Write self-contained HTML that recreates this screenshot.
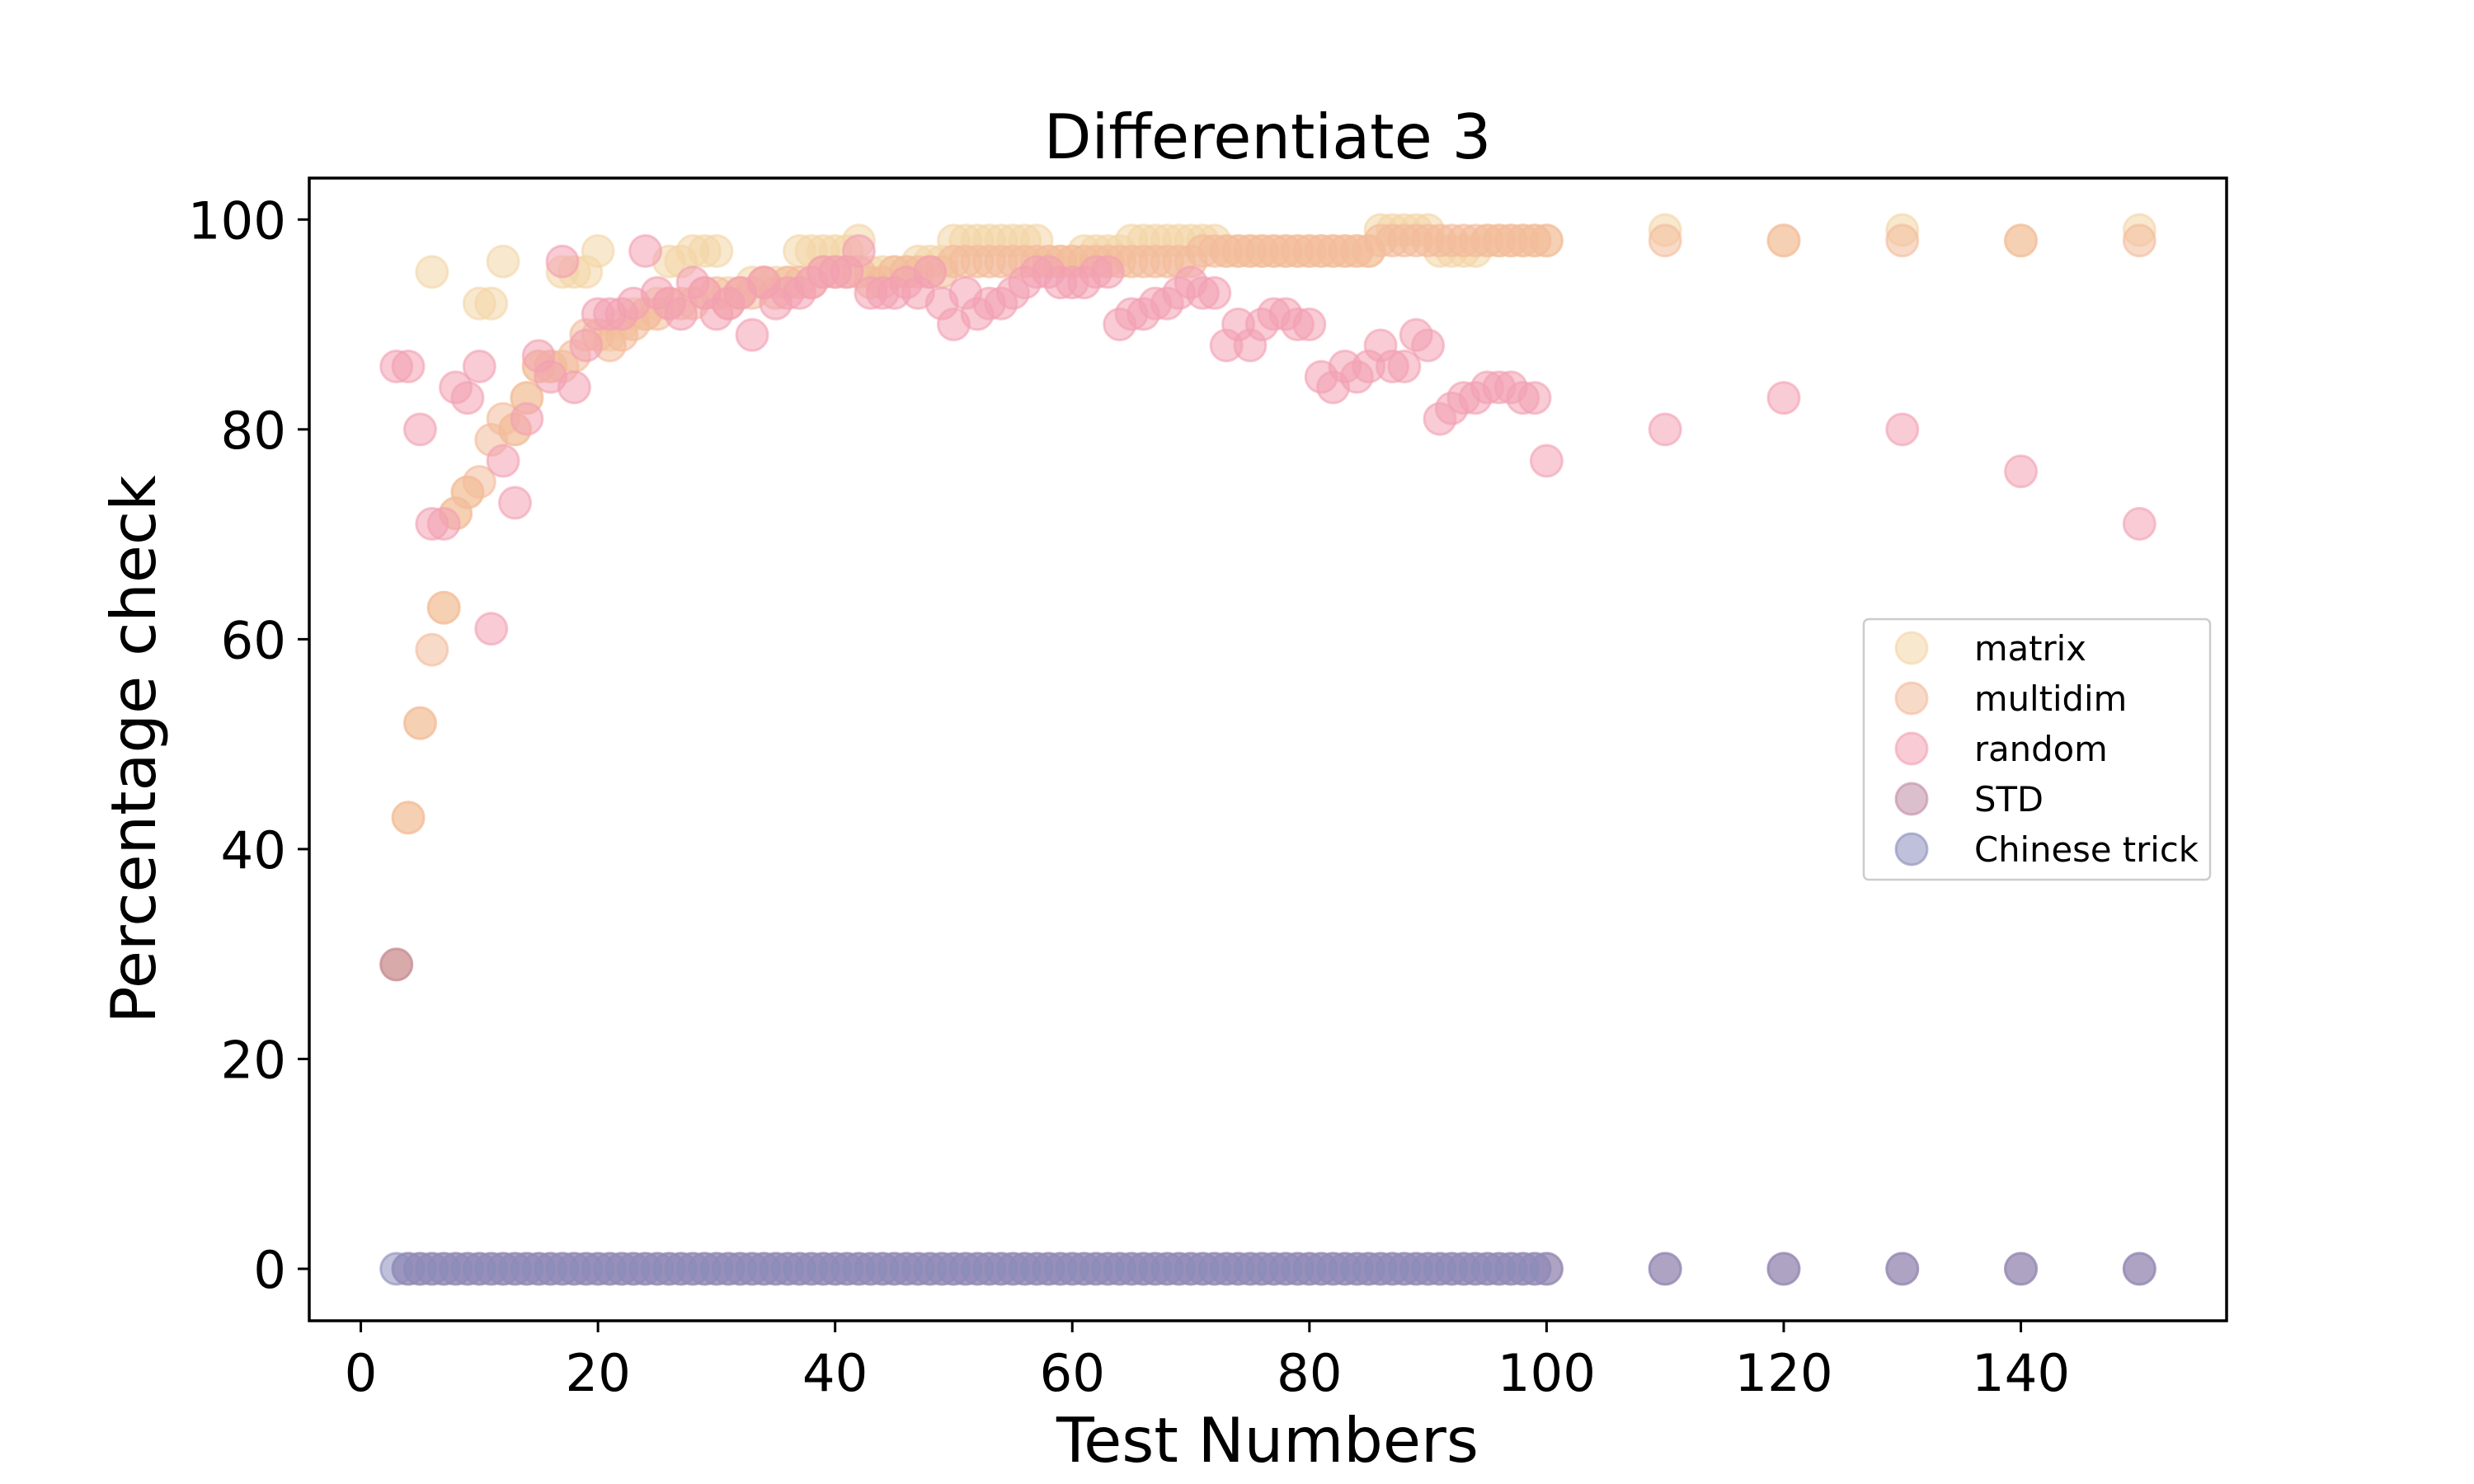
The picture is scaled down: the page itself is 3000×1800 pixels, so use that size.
<!DOCTYPE html>
<html><head><meta charset="utf-8"><style>html,body{margin:0;padding:0;background:#fff}svg{display:block}text{font-family:"DejaVu Sans","Liberation Sans",sans-serif}</style></head>
<body>
<svg id="chart" width="3000" height="1800" xmlns="http://www.w3.org/2000/svg">
<rect width="3000" height="1800" fill="#fff"/>
<text x="1537" y="192" font-size="75" text-anchor="middle">Differentiate 3</text>
<g id="marks"></g>
<rect x="375" y="216" width="2325" height="1386" fill="none" stroke="#000" stroke-width="3.5"/>
<g id="ticks"></g>
<text x="1537" y="1773" font-size="75" text-anchor="middle">Test Numbers</text>
<text x="0" y="0" font-size="75" text-anchor="middle" transform="translate(188,909) rotate(-90)">Percentage check</text>
<g id="legend"></g>
</svg>
<script>
const xs=[3,4,5,6,7,8,9,10,11,12,13,14,15,16,17,18,19,20,21,22,23,24,25,26,27,28,29,30,31,32,33,34,35,36,37,38,39,40,41,42,43,44,45,46,47,48,49,50,51,52,53,54,55,56,57,58,59,60,61,62,63,64,65,66,67,68,69,70,71,72,73,74,75,76,77,78,79,80,81,82,83,84,85,86,87,88,89,90,91,92,93,94,95,96,97,98,99,100,110,120,130,140,150];
const matrixVals=[29,43,52,95,63,72,74,92,92,96,80,83,86,86,95,95,95,97,89,90,91,91,92,96,96,97,97,97,93,93,94,94,94,94,97,97,97,97,97,98,95,95,95,95,96,96,96,98,98,98,98,98,98,98,98,96,96,96,97,97,97,97,98,98,98,98,98,98,98,98,97,97,97,97,97,97,97,97,97,97,97,97,97,99,99,99,99,99,97,97,97,97,98,98,98,98,98,98,99,98,99,98,99];
const multidimVals=[29,43,52,59,63,72,74,75,79,81,80,83,86,86,86,87,89,89,88,89,90,91,91,92,92,92,93,93,92,93,93,94,93,94,94,94,95,95,95,95,94,94,95,95,95,95,95,96,96,96,96,96,96,96,96,96,96,96,96,96,96,96,96,96,96,96,96,96,97,97,97,97,97,97,97,97,97,97,97,97,97,97,97,98,98,98,98,98,98,98,98,98,98,98,98,98,98,98,98,98,98,98,98];
const randomVals=[86,86,80,71,71,84,83,86,61,77,73,81,87,85,96,84,88,91,91,91,92,97,93,92,91,94,93,91,92,93,89,94,92,93,93,94,95,95,95,97,93,93,93,94,93,95,92,90,93,91,92,92,93,94,95,95,94,94,94,95,95,90,91,91,92,92,93,94,93,93,88,90,88,90,91,91,90,90,85,84,86,85,86,88,86,86,89,88,81,82,83,83,84,84,84,83,83,77,80,83,80,76,71];
const stdVals=[29,0,0,0,0,0,0,0,0,0,0,0,0,0,0,0,0,0,0,0,0,0,0,0,0,0,0,0,0,0,0,0,0,0,0,0,0,0,0,0,0,0,0,0,0,0,0,0,0,0,0,0,0,0,0,0,0,0,0,0,0,0,0,0,0,0,0,0,0,0,0,0,0,0,0,0,0,0,0,0,0,0,0,0,0,0,0,0,0,0,0,0,0,0,0,0,0,0,0,0,0,0,0];
const chineseVals=[0,0,0,0,0,0,0,0,0,0,0,0,0,0,0,0,0,0,0,0,0,0,0,0,0,0,0,0,0,0,0,0,0,0,0,0,0,0,0,0,0,0,0,0,0,0,0,0,0,0,0,0,0,0,0,0,0,0,0,0,0,0,0,0,0,0,0,0,0,0,0,0,0,0,0,0,0,0,0,0,0,0,0,0,0,0,0,0,0,0,0,0,0,0,0,0,0,0,0,0,0,0,0];
const seriesNames=["matrix","multidim","random","STD","Chinese trick"];
const xTicks=[0,20,40,60,80,100,120,140];
const yTicks=[0,20,40,60,80,100];

const L=375,R=2700,T=216,B=1602,XMIN=-4.35,XMAX=157.35,YMIN=-4.95,YMAX=103.95;
const sx=v=>L+(v-XMIN)/(XMAX-XMIN)*(R-L);
const sy=v=>B-(v-YMIN)/(YMAX-YMIN)*(B-T);
const NS="http://www.w3.org/2000/svg";
const colors=["#f3d6a6","#f3bb9b","#f2a0b2","#c08aa3","#8a8cbb"];
const all=[matrixVals,multidimVals,randomVals,stdVals,chineseVals];
const marks=document.getElementById('marks');
all.forEach((vals,si)=>{
  const g=document.createElementNS(NS,'g');
  
  
  vals.forEach((v,i)=>{
    const c=document.createElementNS(NS,'circle');
    
    
    c.setAttribute('cx',sx(xs[i]));c.setAttribute('cy',sy(v));c.setAttribute('r',19);
    c.setAttribute('fill',colors[si]);c.setAttribute('fill-opacity','0.55');
    c.setAttribute('stroke',colors[si]);c.setAttribute('stroke-opacity','0.6');c.setAttribute('stroke-width','3');
    g.appendChild(c);
  });
  marks.appendChild(g);
});
const tk=document.getElementById('ticks');
xTicks.forEach(t=>{
  const l=document.createElementNS(NS,'line');
  
  
  l.setAttribute('x1',sx(t));l.setAttribute('x2',sx(t));l.setAttribute('y1',B);l.setAttribute('y2',B+14);l.setAttribute('stroke','#000');l.setAttribute('stroke-width','3');
  tk.appendChild(l);
  const s=document.createElementNS(NS,'text');
  
  
  s.setAttribute('x',sx(t));s.setAttribute('y',B+85);s.setAttribute('font-size','62.5');s.setAttribute('text-anchor','middle');
  s.textContent=t;tk.appendChild(s);
});
yTicks.forEach(t=>{
  const l=document.createElementNS(NS,'line');
  
  
  l.setAttribute('x1',L-14);l.setAttribute('x2',L);l.setAttribute('y1',sy(t));l.setAttribute('y2',sy(t));l.setAttribute('stroke','#000');l.setAttribute('stroke-width','3');
  tk.appendChild(l);
  const s=document.createElementNS(NS,'text');
  
  
  s.setAttribute('x',L-28);s.setAttribute('y',sy(t)+23);s.setAttribute('font-size','62.5');s.setAttribute('text-anchor','end');
  s.textContent=t;tk.appendChild(s);
});
const lg=document.getElementById('legend');
const box=document.createElementNS(NS,'rect');


box.setAttribute('x',2260);box.setAttribute('y',751);box.setAttribute('width',420);box.setAttribute('height',316);box.setAttribute('rx',6);
box.setAttribute('fill','#fff');box.setAttribute('fill-opacity','0.8');box.setAttribute('stroke','#ccc');box.setAttribute('stroke-width','2.5');
lg.appendChild(box);
seriesNames.forEach((n,i)=>{
  const y=786+i*61;
  const c=document.createElementNS(NS,'circle');
  
  
  c.setAttribute('cx',2318);c.setAttribute('cy',y);c.setAttribute('r',19);
  c.setAttribute('fill',colors[i]);c.setAttribute('fill-opacity','0.55');c.setAttribute('stroke',colors[i]);c.setAttribute('stroke-opacity','0.6');c.setAttribute('stroke-width','3');
  lg.appendChild(c);
  const s=document.createElementNS(NS,'text');
  
  
  s.setAttribute('x',2394);s.setAttribute('y',y+15);s.setAttribute('font-size','41.7');
  s.textContent=n;lg.appendChild(s);
});
</script>
</body></html>
